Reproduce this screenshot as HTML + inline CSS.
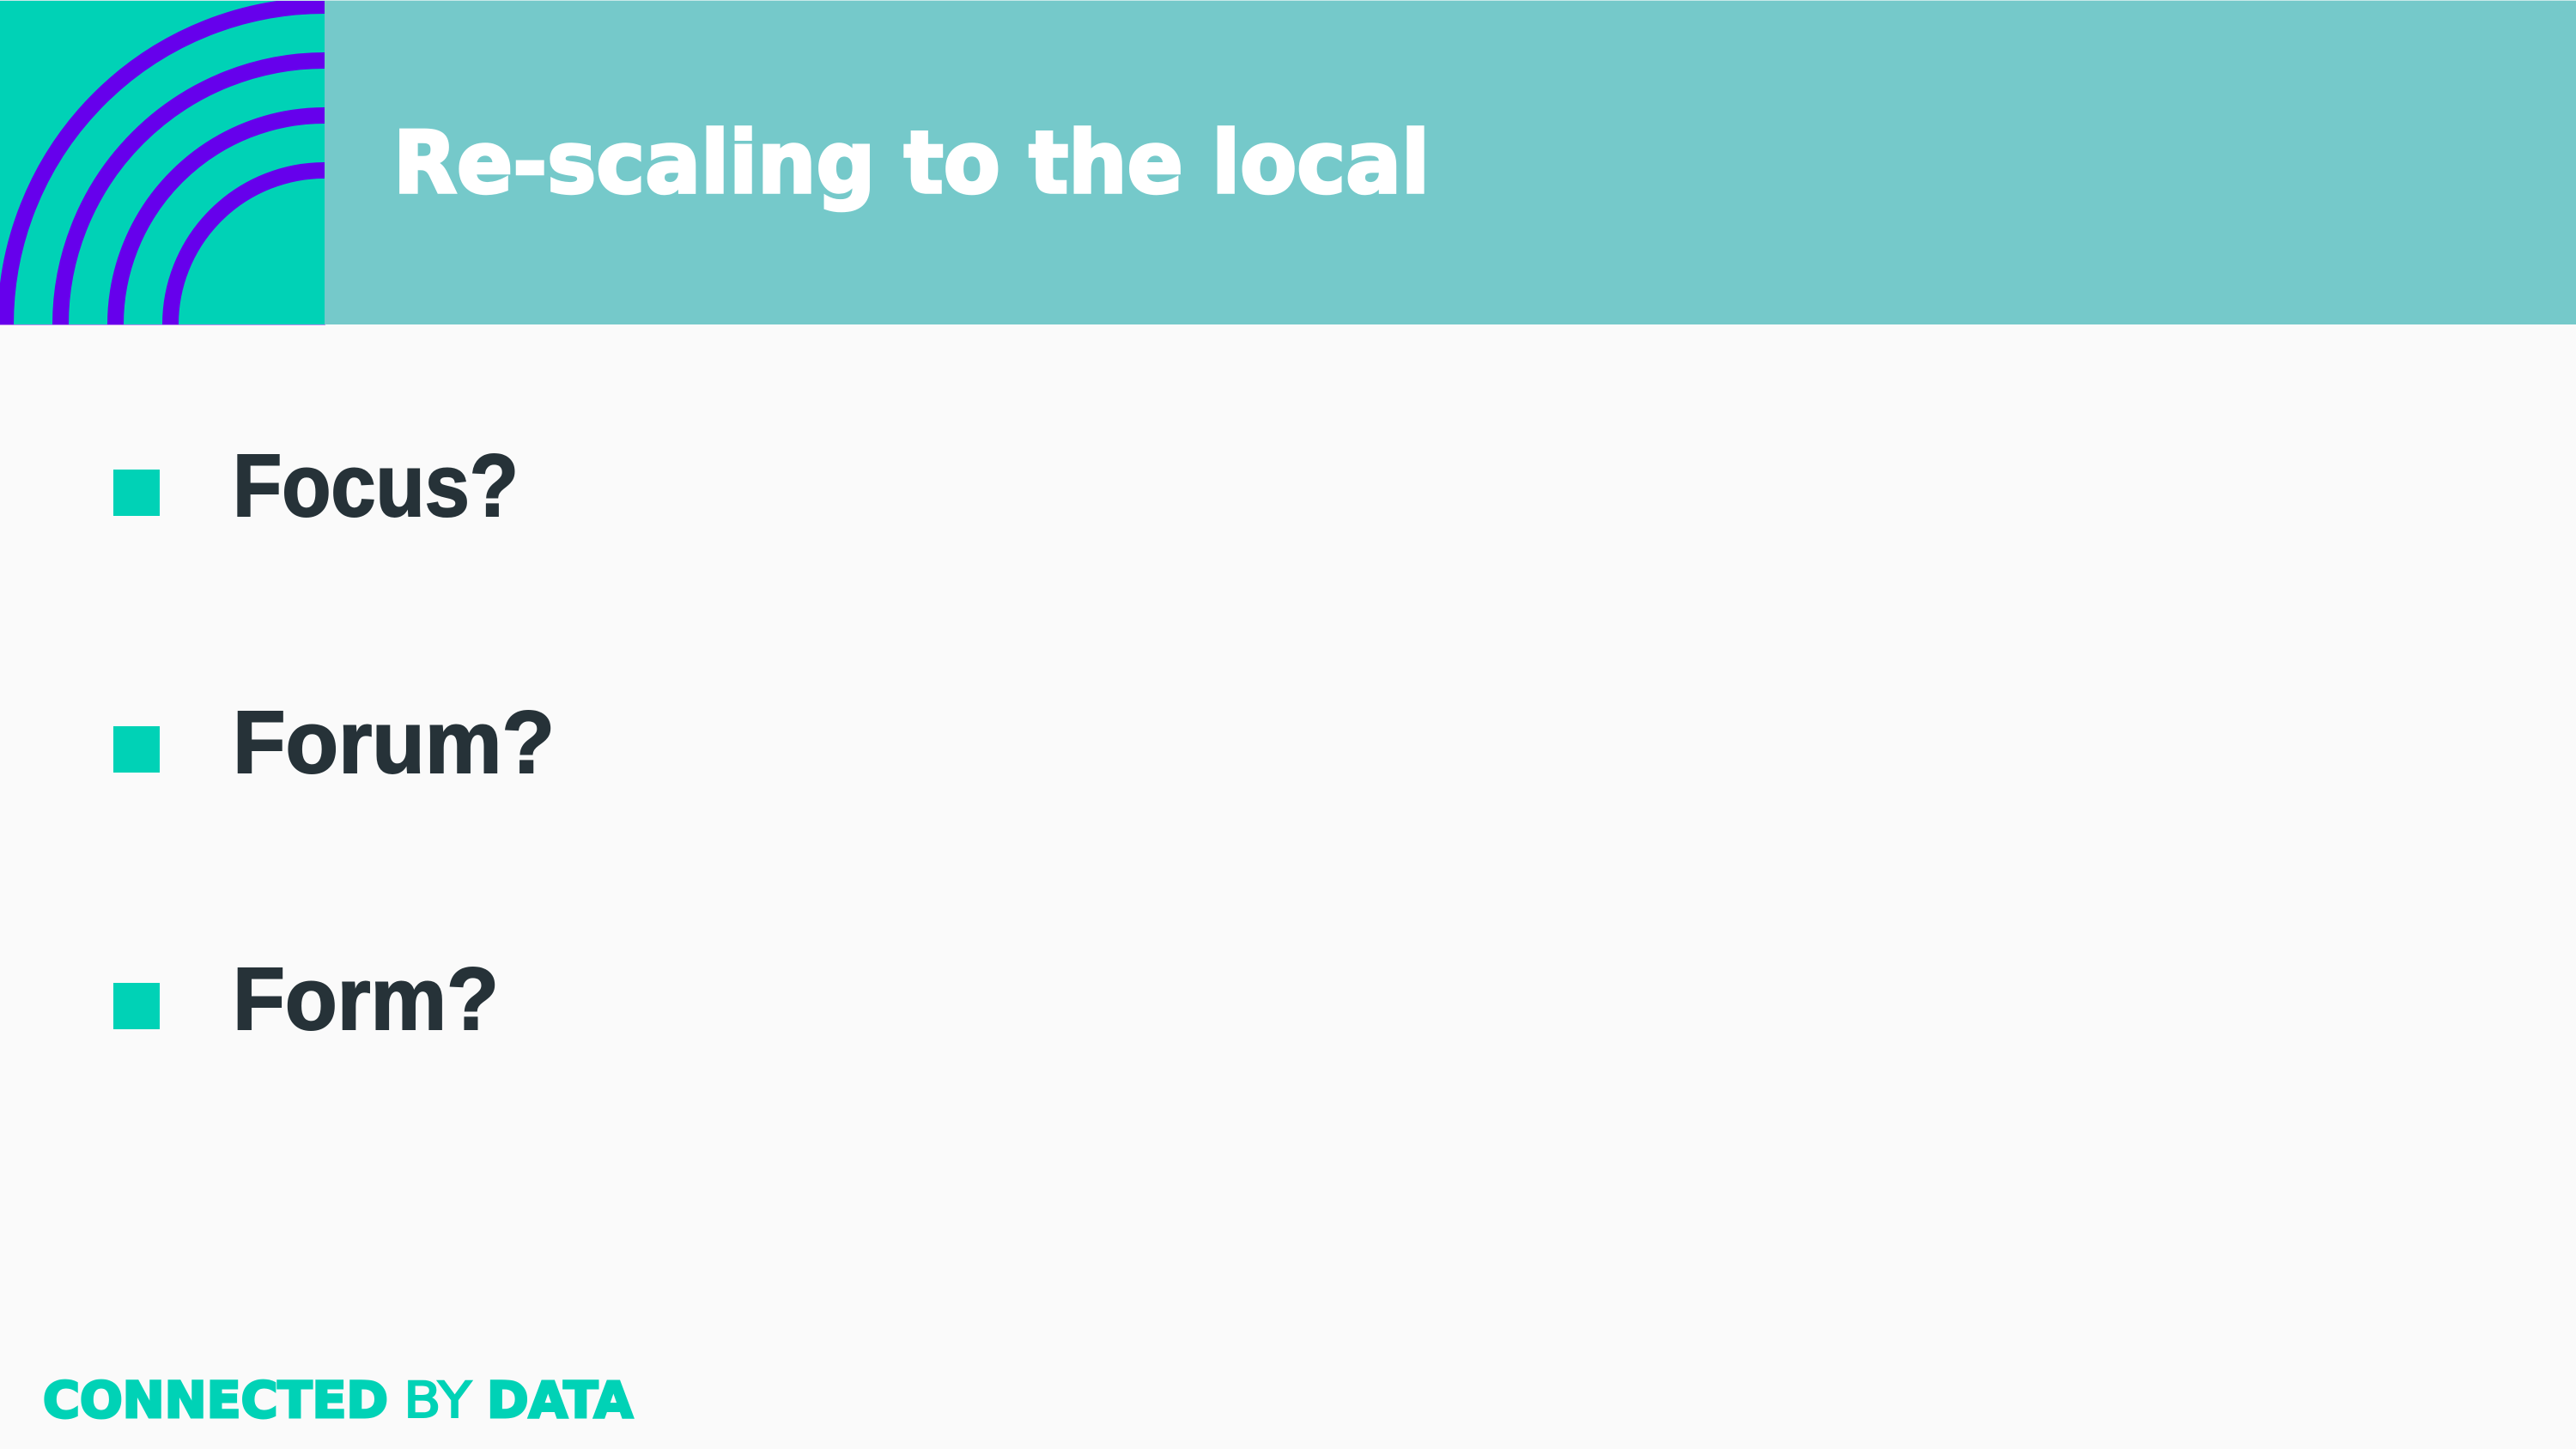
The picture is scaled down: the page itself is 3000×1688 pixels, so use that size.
<!DOCTYPE html>
<html lang="en">
<head>
<meta charset="utf-8">
<title>Re-scaling to the local</title>
<style>
html,body{margin:0;padding:0;width:3000px;height:1688px;overflow:hidden;background:#fafafa}
svg{display:block}
text{font-family:"Liberation Sans",sans-serif;font-weight:700}
text.geo{font-family:"DejaVu Sans",sans-serif}
</style>
</head>
<body>
<svg width="3000" height="1688" viewBox="0 0 3000 1688" xmlns="http://www.w3.org/2000/svg">
  <rect x="0" y="0" width="3000" height="1688" fill="#fafafa"/>
  <rect x="0" y="0" width="3000" height="378" fill="#75c9ca"/>
  <rect x="0" y="0" width="3000" height="1" fill="#c8e9e9"/>
  <g>
    <rect x="0" y="1" width="378" height="377" fill="#00d2b6"/>
    <g fill="none" stroke="#6600ec" stroke-width="19">
      <path d="M6.5 378A371.5 371.5 0 0 1 378 6.5"/>
      <path d="M70.5 378A307.5 307.5 0 0 1 378 70.5"/>
      <path d="M134.5 378A243.5 243.5 0 0 1 378 134.5"/>
      <path d="M198.5 378A179.5 179.5 0 0 1 378 198.5"/>
    </g>
    <rect x="0" y="0" width="378" height="1" fill="#c8e9e9"/>
    <rect x="0" y="378" width="379" height="1" fill="#c58df0"/>
  </g>
  <text class="geo" x="458" y="224" font-size="100" fill="#ffffff" stroke="#ffffff" stroke-width="3.5" textLength="1207" lengthAdjust="spacingAndGlyphs">Re-scaling to the local</text>

  <g>
    <g>
      <rect x="132" y="547" width="54" height="54" fill="#00d2b6"/>
      <text x="271" y="601" font-size="103" fill="#263238" stroke="#263238" stroke-width="2" textLength="333" lengthAdjust="spacingAndGlyphs">Focus?</text>
    </g>
    <g>
      <rect x="132" y="846" width="54" height="54" fill="#00d2b6"/>
      <text x="271" y="900" font-size="103" fill="#263238" stroke="#263238" stroke-width="2" textLength="375" lengthAdjust="spacingAndGlyphs">Forum?</text>
    </g>
    <g>
      <rect x="132" y="1145" width="54" height="54" fill="#00d2b6"/>
      <text x="271" y="1199" font-size="103" fill="#263238" stroke="#263238" stroke-width="2" textLength="310" lengthAdjust="spacingAndGlyphs">Form?</text>
    </g>
  </g>

  <g fill="#00d2b6">
    <text class="geo" x="50" y="1651" font-size="58" stroke="#00d2b6" stroke-width="3" textLength="402" lengthAdjust="spacingAndGlyphs">CONNECTED</text>
    <text class="geo" x="470" y="1651" font-size="58" style="font-weight:400" stroke="#00d2b6" stroke-width="2" textLength="79" lengthAdjust="spacingAndGlyphs">BY</text>
    <text class="geo" x="567" y="1651" font-size="58" stroke="#00d2b6" stroke-width="3" textLength="170" lengthAdjust="spacingAndGlyphs">DATA</text>
  </g>
</svg>
</body>
</html>
